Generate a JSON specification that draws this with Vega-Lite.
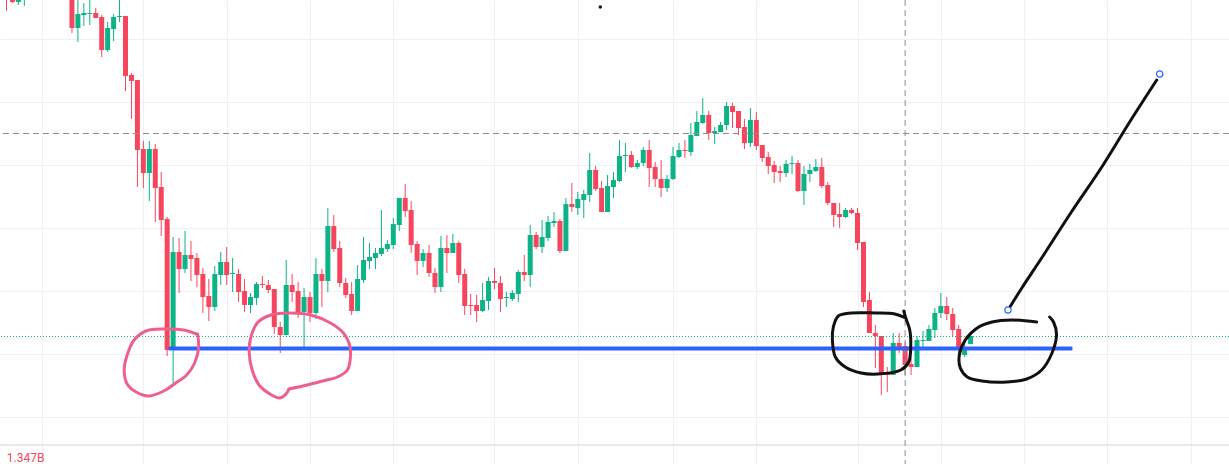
{
  "$schema": "https://vega.github.io/schema/vega-lite/v6.json",
  "width": 1229,
  "height": 464,
  "autosize": {"type": "none"},
  "padding": 0,
  "background": "#ffffff",
  "config": {"view": {"stroke": null}},
  "datasets": {
    "candles": [
      {"i":0,"o":47.4,"h":47.9,"l":45.3,"c":46.7},
      {"i":1,"o":46.9,"h":47.2,"l":46.1,"c":46.2},
      {"i":2,"o":46.2,"h":47.0,"l":45.9,"c":46.7},
      {"i":3,"o":46.6,"h":47.6,"l":45.8,"c":47.2},
      {"i":11,"o":46.9,"h":47.4,"l":43.1,"c":43.6},
      {"i":12,"o":43.6,"h":46.7,"l":42.2,"c":45.0},
      {"i":13,"o":44.9,"h":46.1,"l":43.8,"c":45.1},
      {"i":14,"o":45.0,"h":46.6,"l":43.9,"c":45.1},
      {"i":15,"o":45.1,"h":45.6,"l":44.6,"c":44.6},
      {"i":16,"o":44.7,"h":44.9,"l":40.7,"c":41.4},
      {"i":17,"o":41.4,"h":44.2,"l":41.2,"c":43.6},
      {"i":18,"o":43.5,"h":45.0,"l":42.3,"c":44.7},
      {"i":19,"o":44.7,"h":46.7,"l":44.2,"c":44.8},
      {"i":20,"o":44.8,"h":44.8,"l":37.3,"c":38.8},
      {"i":21,"o":38.9,"h":39.1,"l":34.5,"c":38.3},
      {"i":22,"o":38.4,"h":38.4,"l":27.7,"c":31.4},
      {"i":23,"o":31.5,"h":32.3,"l":27.6,"c":29.1},
      {"i":24,"o":29.1,"h":32.3,"l":26.3,"c":31.5},
      {"i":25,"o":31.5,"h":32.0,"l":24.2,"c":27.6},
      {"i":26,"o":27.7,"h":29.2,"l":22.8,"c":24.4},
      {"i":27,"o":24.5,"h":24.7,"l":10.8,"c":11.4},
      {"i":28,"o":11.5,"h":22.7,"l":8.1,"c":21.2},
      {"i":29,"o":21.2,"h":22.6,"l":17.1,"c":19.5},
      {"i":30,"o":19.5,"h":23.3,"l":19.1,"c":20.9},
      {"i":31,"o":20.9,"h":22.3,"l":18.3,"c":20.5},
      {"i":32,"o":20.6,"h":21.1,"l":17.7,"c":18.9},
      {"i":33,"o":19.0,"h":19.6,"l":15.1,"c":16.7},
      {"i":34,"o":16.8,"h":18.5,"l":14.3,"c":15.7},
      {"i":35,"o":15.7,"h":19.8,"l":15.3,"c":19.0},
      {"i":36,"o":18.9,"h":21.2,"l":17.9,"c":20.2},
      {"i":37,"o":20.2,"h":21.7,"l":17.9,"c":18.9},
      {"i":38,"o":19.0,"h":20.6,"l":17.2,"c":19.1},
      {"i":39,"o":19.0,"h":19.5,"l":16.2,"c":17.2},
      {"i":40,"o":17.3,"h":18.5,"l":15.2,"c":15.9},
      {"i":41,"o":15.9,"h":17.1,"l":15.1,"c":16.7},
      {"i":42,"o":16.6,"h":18.2,"l":15.9,"c":18.0},
      {"i":43,"o":18.0,"h":18.8,"l":17.6,"c":17.9},
      {"i":44,"o":17.9,"h":18.4,"l":17.1,"c":17.4},
      {"i":45,"o":17.5,"h":17.5,"l":13.0,"c":13.7},
      {"i":46,"o":13.7,"h":14.2,"l":11.1,"c":12.9},
      {"i":47,"o":12.9,"h":20.4,"l":12.9,"c":17.9},
      {"i":48,"o":17.9,"h":19.0,"l":16.2,"c":17.2},
      {"i":49,"o":17.3,"h":18.2,"l":14.6,"c":15.2},
      {"i":50,"o":15.2,"h":17.6,"l":11.6,"c":16.7},
      {"i":51,"o":16.7,"h":17.2,"l":14.2,"c":15.1},
      {"i":52,"o":15.1,"h":20.6,"l":14.5,"c":19.0},
      {"i":53,"o":19.0,"h":19.5,"l":15.7,"c":18.3},
      {"i":54,"o":18.3,"h":25.6,"l":17.2,"c":23.8},
      {"i":55,"o":23.8,"h":24.9,"l":21.2,"c":21.5},
      {"i":56,"o":21.6,"h":22.3,"l":17.7,"c":18.1},
      {"i":57,"o":18.1,"h":18.6,"l":16.6,"c":16.9},
      {"i":58,"o":17.0,"h":18.2,"l":14.9,"c":15.3},
      {"i":59,"o":15.3,"h":19.9,"l":15.3,"c":18.5},
      {"i":60,"o":18.4,"h":22.7,"l":18.1,"c":20.4},
      {"i":61,"o":20.3,"h":22.1,"l":19.5,"c":20.7},
      {"i":62,"o":20.6,"h":21.6,"l":19.5,"c":21.1},
      {"i":63,"o":21.0,"h":25.4,"l":20.8,"c":21.6},
      {"i":64,"o":21.5,"h":22.4,"l":21.2,"c":22.0},
      {"i":65,"o":21.9,"h":24.6,"l":21.5,"c":24.0},
      {"i":66,"o":23.9,"h":26.6,"l":23.3,"c":26.6},
      {"i":67,"o":26.6,"h":28.0,"l":24.7,"c":25.3},
      {"i":68,"o":25.4,"h":26.3,"l":21.1,"c":21.9},
      {"i":69,"o":22.0,"h":22.3,"l":18.9,"c":20.3},
      {"i":70,"o":20.3,"h":21.5,"l":19.7,"c":21.1},
      {"i":71,"o":21.1,"h":21.9,"l":18.7,"c":19.1},
      {"i":72,"o":19.1,"h":19.6,"l":17.1,"c":17.7},
      {"i":73,"o":17.7,"h":22.8,"l":17.2,"c":21.6},
      {"i":74,"o":21.6,"h":22.9,"l":19.1,"c":21.1},
      {"i":75,"o":21.1,"h":23.0,"l":21.1,"c":22.1},
      {"i":76,"o":22.1,"h":22.3,"l":18.1,"c":18.9},
      {"i":77,"o":19.0,"h":19.5,"l":14.9,"c":15.8},
      {"i":78,"o":15.9,"h":17.0,"l":14.9,"c":15.8},
      {"i":79,"o":15.9,"h":16.9,"l":14.2,"c":15.3},
      {"i":80,"o":15.3,"h":18.1,"l":15.2,"c":16.4},
      {"i":81,"o":16.3,"h":18.7,"l":15.4,"c":18.3},
      {"i":82,"o":18.3,"h":19.6,"l":17.5,"c":18.1},
      {"i":83,"o":18.1,"h":18.8,"l":15.2,"c":16.5},
      {"i":84,"o":16.6,"h":17.2,"l":15.7,"c":16.7},
      {"i":85,"o":16.5,"h":17.4,"l":16.3,"c":17.1},
      {"i":86,"o":17.0,"h":19.4,"l":16.2,"c":19.2},
      {"i":87,"o":19.2,"h":20.9,"l":18.3,"c":18.9},
      {"i":88,"o":18.9,"h":23.9,"l":17.7,"c":22.9},
      {"i":89,"o":22.9,"h":23.2,"l":21.5,"c":21.7},
      {"i":90,"o":21.7,"h":24.4,"l":21.1,"c":22.7},
      {"i":91,"o":22.6,"h":24.8,"l":22.3,"c":24.2},
      {"i":92,"o":24.1,"h":25.2,"l":23.7,"c":24.3},
      {"i":93,"o":24.3,"h":24.5,"l":21.1,"c":21.3},
      {"i":94,"o":21.3,"h":26.6,"l":21.3,"c":26.0},
      {"i":95,"o":26.0,"h":28.1,"l":25.2,"c":25.7},
      {"i":96,"o":25.6,"h":27.2,"l":24.9,"c":26.5},
      {"i":97,"o":26.4,"h":27.4,"l":24.6,"c":27.0},
      {"i":98,"o":26.9,"h":31.1,"l":26.2,"c":29.4},
      {"i":99,"o":29.4,"h":29.8,"l":27.3,"c":27.5},
      {"i":100,"o":27.6,"h":28.3,"l":25.2,"c":25.2},
      {"i":101,"o":25.2,"h":28.9,"l":25.2,"c":27.8},
      {"i":102,"o":27.7,"h":29.2,"l":26.6,"c":28.4},
      {"i":103,"o":28.3,"h":32.4,"l":28.2,"c":30.8},
      {"i":104,"o":30.8,"h":32.1,"l":29.2,"c":30.9},
      {"i":105,"o":30.9,"h":31.3,"l":29.6,"c":29.7},
      {"i":106,"o":29.7,"h":30.4,"l":29.5,"c":30.1},
      {"i":107,"o":30.1,"h":31.7,"l":29.8,"c":31.4},
      {"i":108,"o":31.4,"h":32.4,"l":27.7,"c":29.6},
      {"i":109,"o":29.7,"h":30.2,"l":27.7,"c":28.5},
      {"i":110,"o":28.5,"h":30.4,"l":26.7,"c":27.6},
      {"i":111,"o":27.6,"h":28.9,"l":27.2,"c":28.5},
      {"i":112,"o":28.5,"h":31.7,"l":28.4,"c":30.8},
      {"i":113,"o":30.7,"h":32.1,"l":30.6,"c":31.4},
      {"i":114,"o":31.4,"h":32.4,"l":30.6,"c":31.3},
      {"i":115,"o":31.2,"h":34.1,"l":30.8,"c":32.9},
      {"i":116,"o":32.8,"h":35.3,"l":32.8,"c":34.2},
      {"i":117,"o":34.1,"h":36.6,"l":34.0,"c":34.9},
      {"i":118,"o":34.9,"h":35.3,"l":32.4,"c":33.1},
      {"i":119,"o":33.1,"h":33.7,"l":32.0,"c":33.3},
      {"i":120,"o":33.2,"h":34.2,"l":33.2,"c":33.9},
      {"i":121,"o":33.9,"h":36.2,"l":33.4,"c":35.8},
      {"i":122,"o":35.8,"h":36.1,"l":33.6,"c":35.2},
      {"i":123,"o":35.3,"h":35.3,"l":32.9,"c":33.6},
      {"i":124,"o":33.7,"h":34.5,"l":31.5,"c":32.1},
      {"i":125,"o":32.1,"h":35.6,"l":31.7,"c":34.4},
      {"i":126,"o":34.4,"h":35.2,"l":31.4,"c":31.8},
      {"i":127,"o":31.9,"h":31.9,"l":30.2,"c":30.6},
      {"i":128,"o":30.7,"h":31.2,"l":29.0,"c":29.8},
      {"i":129,"o":29.9,"h":30.3,"l":28.1,"c":29.2},
      {"i":130,"o":29.3,"h":29.8,"l":28.2,"c":29.1},
      {"i":131,"o":29.1,"h":30.4,"l":28.7,"c":30.0},
      {"i":132,"o":30.0,"h":30.8,"l":29.0,"c":30.1},
      {"i":133,"o":30.1,"h":30.4,"l":27.2,"c":27.3},
      {"i":134,"o":27.3,"h":29.8,"l":25.9,"c":29.0},
      {"i":135,"o":29.0,"h":30.0,"l":28.2,"c":29.4},
      {"i":136,"o":29.3,"h":30.5,"l":29.2,"c":29.7},
      {"i":137,"o":29.7,"h":30.6,"l":27.6,"c":27.8},
      {"i":138,"o":27.9,"h":28.2,"l":25.9,"c":26.1},
      {"i":139,"o":26.1,"h":26.1,"l":23.7,"c":24.9},
      {"i":140,"o":25.0,"h":26.1,"l":23.6,"c":24.7},
      {"i":141,"o":24.7,"h":25.6,"l":24.6,"c":25.4},
      {"i":142,"o":25.4,"h":25.6,"l":25.0,"c":25.1},
      {"i":143,"o":25.1,"h":25.6,"l":21.4,"c":22.1},
      {"i":144,"o":22.2,"h":22.2,"l":15.7,"c":16.2},
      {"i":145,"o":16.4,"h":17.2,"l":13.1,"c":13.1},
      {"i":146,"o":13.1,"h":13.9,"l":9.6,"c":12.8},
      {"i":147,"o":12.8,"h":12.8,"l":6.9,"c":9.1},
      {"i":148,"o":9.2,"h":9.7,"l":7.2,"c":8.9},
      {"i":149,"o":8.9,"h":13.1,"l":8.9,"c":12.1},
      {"i":150,"o":12.1,"h":13.1,"l":11.1,"c":11.7},
      {"i":151,"o":11.8,"h":12.2,"l":8.9,"c":9.9},
      {"i":152,"o":10.0,"h":10.6,"l":8.9,"c":9.7},
      {"i":153,"o":9.7,"h":12.8,"l":9.7,"c":12.4},
      {"i":154,"o":12.3,"h":13.3,"l":11.4,"c":12.4},
      {"i":155,"o":12.3,"h":13.9,"l":12.3,"c":13.5},
      {"i":156,"o":13.4,"h":15.6,"l":12.6,"c":15.1},
      {"i":157,"o":15.1,"h":17.1,"l":14.6,"c":15.8},
      {"i":158,"o":15.8,"h":16.7,"l":14.4,"c":15.0},
      {"i":159,"o":15.0,"h":15.6,"l":12.8,"c":13.4},
      {"i":160,"o":13.5,"h":13.9,"l":11.1,"c":11.5},
      {"i":161,"o":10.9,"h":12.2,"l":10.7,"c":11.7},
      {"i":162,"o":12.0,"h":12.8,"l":12.0,"c":12.8}
    ],
    "pink": [
      {"s":"a","k":0,"x":31.94,"y":13.0},
      {"s":"a","k":1,"x":29.78,"y":13.4},
      {"s":"a","k":2,"x":26.44,"y":13.5},
      {"s":"a","k":3,"x":23.44,"y":13.3},
      {"s":"a","k":4,"x":21.44,"y":12.4},
      {"s":"a","k":5,"x":20.28,"y":10.9},
      {"s":"a","k":6,"x":19.78,"y":9.4},
      {"s":"a","k":7,"x":20.28,"y":8.0},
      {"s":"a","k":8,"x":21.78,"y":7.2},
      {"s":"a","k":9,"x":23.94,"y":6.8},
      {"s":"a","k":10,"x":26.44,"y":7.3},
      {"s":"a","k":11,"x":28.44,"y":8.1},
      {"s":"a","k":12,"x":30.28,"y":8.9},
      {"s":"a","k":13,"x":31.61,"y":10.1},
      {"s":"a","k":14,"x":32.28,"y":11.6},
      {"s":"a","k":15,"x":32.11,"y":13.0},
      {"s":"b","k":0,"x":47.44,"y":7.5},
      {"s":"b","k":1,"x":49.78,"y":7.8},
      {"s":"b","k":2,"x":53.11,"y":8.3},
      {"s":"b","k":3,"x":55.61,"y":8.7},
      {"s":"b","k":4,"x":57.28,"y":9.4},
      {"s":"b","k":5,"x":57.78,"y":10.6},
      {"s":"b","k":6,"x":57.61,"y":12.0},
      {"s":"b","k":7,"x":56.61,"y":13.1},
      {"s":"b","k":8,"x":54.44,"y":14.1},
      {"s":"b","k":9,"x":51.11,"y":14.9},
      {"s":"b","k":10,"x":47.61,"y":15.1},
      {"s":"b","k":11,"x":44.44,"y":14.9},
      {"s":"b","k":12,"x":42.28,"y":14.2},
      {"s":"b","k":13,"x":41.11,"y":12.8},
      {"s":"b","k":14,"x":40.78,"y":11.2},
      {"s":"b","k":15,"x":41.28,"y":9.4},
      {"s":"b","k":16,"x":42.44,"y":7.9},
      {"s":"b","k":17,"x":44.28,"y":7.0},
      {"s":"b","k":18,"x":45.94,"y":6.6},
      {"s":"b","k":19,"x":47.11,"y":7.1},
      {"s":"b","k":20,"x":47.44,"y":7.5}
    ],
    "black": [
      {"s":"c","k":0,"x":150.78,"y":15.3},
      {"s":"c","k":1,"x":151.11,"y":14.6},
      {"s":"c","k":2,"x":151.78,"y":13.4},
      {"s":"c","k":3,"x":151.94,"y":11.7},
      {"s":"c","k":4,"x":151.61,"y":10.2},
      {"s":"c","k":5,"x":150.28,"y":9.4},
      {"s":"c","k":6,"x":146.44,"y":9.0},
      {"s":"c","k":7,"x":143.61,"y":9.1},
      {"s":"c","k":8,"x":140.94,"y":9.7},
      {"s":"c","k":9,"x":139.28,"y":10.7},
      {"s":"c","k":10,"x":138.78,"y":12.4},
      {"s":"c","k":11,"x":138.94,"y":13.7},
      {"s":"c","k":12,"x":139.78,"y":14.8},
      {"s":"c","k":13,"x":141.94,"y":15.1},
      {"s":"c","k":14,"x":145.94,"y":15.1},
      {"s":"c","k":15,"x":149.28,"y":15.0},
      {"s":"c","k":16,"x":151.11,"y":14.6},
      {"s":"d","k":0,"x":173.11,"y":14.2},
      {"s":"d","k":1,"x":168.94,"y":14.4},
      {"s":"d","k":2,"x":165.61,"y":14.2},
      {"s":"d","k":3,"x":163.11,"y":13.6},
      {"s":"d","k":4,"x":161.11,"y":12.4},
      {"s":"d","k":5,"x":160.11,"y":10.9},
      {"s":"d","k":6,"x":160.28,"y":9.6},
      {"s":"d","k":7,"x":161.44,"y":8.7},
      {"s":"d","k":8,"x":163.94,"y":8.3},
      {"s":"d","k":9,"x":168.11,"y":8.2},
      {"s":"d","k":10,"x":171.44,"y":8.5},
      {"s":"d","k":11,"x":173.94,"y":9.4},
      {"s":"d","k":12,"x":175.61,"y":11.0},
      {"s":"d","k":13,"x":176.44,"y":12.9},
      {"s":"d","k":14,"x":175.94,"y":14.2},
      {"s":"d","k":15,"x":175.28,"y":14.7},
      {"s":"e","k":0,"x":168.61,"y":15.7},
      {"s":"e","k":1,"x":170.61,"y":17.6},
      {"s":"e","k":2,"x":173.94,"y":20.6},
      {"s":"e","k":3,"x":178.94,"y":25.2},
      {"s":"e","k":4,"x":183.94,"y":29.6},
      {"s":"e","k":5,"x":188.94,"y":34.4},
      {"s":"e","k":6,"x":193.28,"y":38.4}
    ],
    "handles": [
      {"x":168.28,"y":15.4},
      {"x":193.78,"y":39.0}
    ]
  },
  "layer": [
    {
      "data": {"name": "candles"},
      "mark": {"type": "rule", "strokeWidth": 1, "clip": true},
      "encoding": {
        "x": {"field": "i", "type": "quantitative",
              "scale": {"domain": [-0.25, 204.583], "nice": false, "zero": false},
              "axis": {"values": [6,23,37,51,65,82,96,112,126,143,157,171,185,199], "grid": true, "gridColor": "#eef0f4", "gridWidth": 1, "labels": false, "ticks": false, "domain": false, "title": null}},
        "y": {"field": "l", "type": "quantitative",
              "scale": {"domain": [0, 46.4], "nice": false, "zero": false},
              "axis": {"values": [45.65,42.5,39.35,36.2,33.05,29.9,26.75,23.6,20.45,17.3,14.15,11.0,7.85,4.7], "grid": true, "gridColor": "#eef0f4", "gridWidth": 1, "labels": false, "ticks": false, "domain": false, "title": null}},
        "y2": {"field": "h"},
        "color": {"condition": {"test": "datum.c > datum.o", "value": "#0bb386"}, "value": "#f6465d"}
      }
    },
    {
      "data": {"name": "candles"},
      "mark": {"type": "bar", "size": 5, "clip": true},
      "encoding": {
        "x": {"field": "i", "type": "quantitative"},
        "y": {"field": "o", "type": "quantitative"},
        "y2": {"field": "c"},
        "color": {"condition": {"test": "datum.c > datum.o", "value": "#0bb386"}, "value": "#f6465d"}
      }
    },
    {
      "data": {"values": [{"p": 1.9}]},
      "mark": {"type": "rule", "color": "#e0e3eb", "strokeWidth": 1.5},
      "encoding": {"y": {"field": "p", "type": "quantitative"}}
    },
    {
      "data": {"values": [{"p": 12.75}]},
      "mark": {"type": "rule", "color": "#0bb386", "strokeWidth": 1, "strokeDash": [1, 2]},
      "encoding": {"y": {"field": "p", "type": "quantitative"}}
    },
    {
      "data": {"values": [{"a": 27.28, "b": 179.11, "p": 11.55}]},
      "mark": {"type": "rule", "color": "#2e62ff", "strokeWidth": 4},
      "encoding": {
        "x": {"field": "a", "type": "quantitative"},
        "x2": {"field": "b"},
        "y": {"field": "p", "type": "quantitative"}
      }
    },
    {
      "data": {"values": [{"p": 33.05}]},
      "mark": {"type": "rule", "color": "#8a8e99", "strokeWidth": 1, "strokeDash": [6, 4]},
      "encoding": {"y": {"field": "p", "type": "quantitative"}}
    },
    {
      "data": {"values": [{"t": 151}]},
      "mark": {"type": "rule", "color": "#8a8e99", "strokeWidth": 1, "strokeDash": [6, 4]},
      "encoding": {"x": {"field": "t", "type": "quantitative"}}
    },
    {
      "data": {"name": "pink"},
      "mark": {"type": "line", "color": "#ef5f8d", "strokeWidth": 3, "interpolate": "catmull-rom", "strokeCap": "round", "strokeJoin": "round"},
      "encoding": {
        "x": {"field": "x", "type": "quantitative"},
        "y": {"field": "y", "type": "quantitative"},
        "detail": {"field": "s"},
        "order": {"field": "k"}
      }
    },
    {
      "data": {"name": "black"},
      "mark": {"type": "line", "color": "#111111", "strokeWidth": 3, "interpolate": "catmull-rom", "strokeCap": "round", "strokeJoin": "round"},
      "encoding": {
        "x": {"field": "x", "type": "quantitative"},
        "y": {"field": "y", "type": "quantitative"},
        "detail": {"field": "s"},
        "order": {"field": "k"}
      }
    },
    {
      "data": {"name": "handles"},
      "mark": {"type": "point", "shape": "circle", "size": 40, "filled": true, "fill": "#ffffff", "stroke": "#2962ff", "strokeWidth": 1.2, "opacity": 1},
      "encoding": {
        "x": {"field": "x", "type": "quantitative"},
        "y": {"field": "y", "type": "quantitative"}
      }
    },
    {
      "data": {"values": [{"x": 99.78, "y": 45.7}]},
      "mark": {"type": "point", "shape": "circle", "size": 12, "filled": true, "color": "#111111", "opacity": 1},
      "encoding": {
        "x": {"field": "x", "type": "quantitative"},
        "y": {"field": "y", "type": "quantitative"}
      }
    },
    {
      "data": {"values": [{"x": 0.05, "y": 0.25, "label": "1.347B"}]},
      "mark": {"type": "text", "align": "left", "baseline": "alphabetic", "fontSize": 12, "font": "Roboto", "color": "#f6465d"},
      "encoding": {
        "x": {"field": "x", "type": "quantitative"},
        "y": {"field": "y", "type": "quantitative"},
        "text": {"field": "label"}
      }
    }
  ]
}
